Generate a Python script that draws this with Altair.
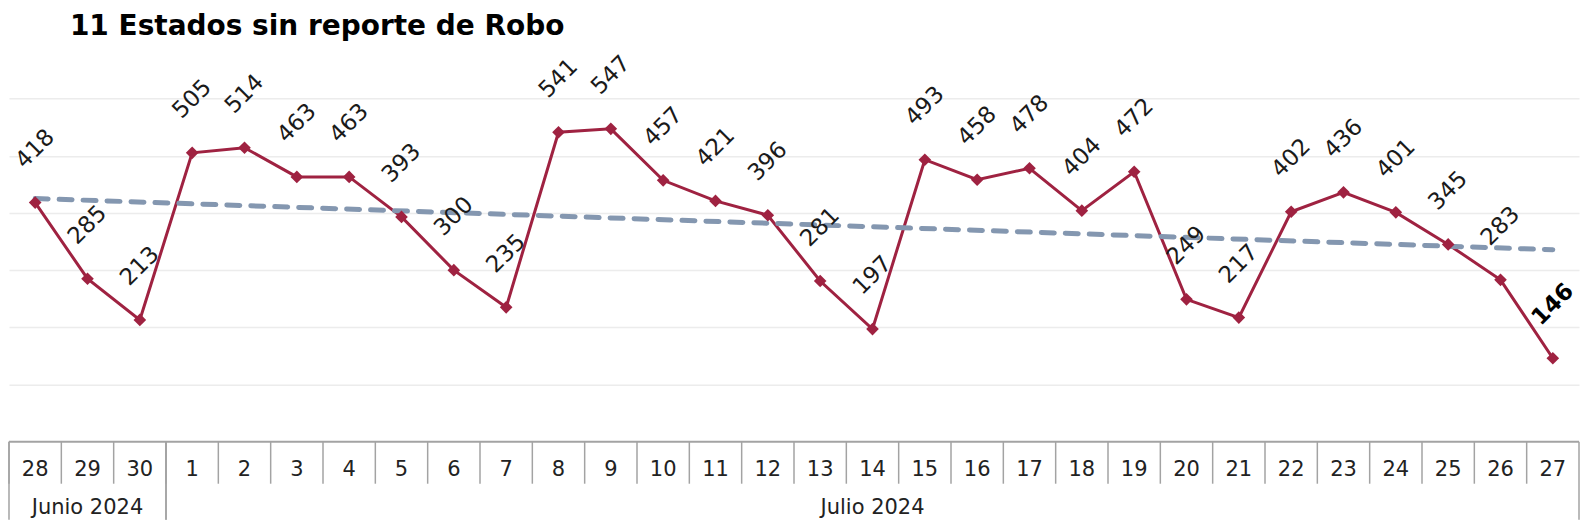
import altair as alt
import pandas as pd

titulo = "11 Estados sin reporte de Robo"
dias = ["28", "29", "30", "1", "2", "3", "4", "5", "6", "7", "8", "9", "10", "11", "12",
        "13", "14", "15", "16", "17", "18", "19", "20", "21", "22", "23", "24", "25", "26", "27"]
meses = ["Junio 2024"] * 3 + ["Julio 2024"] * 27
valores = [418, 285, 213, 505, 514, 463, 463, 393, 300, 235, 541, 547, 457, 421, 396,
           281, 197, 493, 458, 478, 404, 472, 249, 217, 402, 436, 401, 345, 283, 146]
grid_vals = [100, 200, 300, 400, 500, 600]

df = pd.DataFrame({"idx": list(range(len(dias))), "dia": dias, "mes": meses, "valor": valores})
df["ultimo"] = df["idx"] == df["idx"].max()

W = 1572
FONT = "DejaVu Sans"
GUINDA = "#9F2241"
TREND = "#8497B0"
LINEA_TABLA = "#a3a3a3"
xscale = alt.Scale(domain=[-0.5, len(dias) - 0.5], nice=False, zero=False)

base = alt.Chart(df).encode(x=alt.X("idx:Q", scale=xscale, axis=None))
yenc = alt.Y("valor:Q", scale=alt.Scale(domain=[0, 700], nice=False),
             axis=alt.Axis(values=grid_vals, grid=True, gridColor="#ececec", gridWidth=1.5,
                           labels=False, ticks=False, domain=False, title=None))

line = base.mark_line(color=GUINDA, strokeWidth=3).encode(y=yenc)
pts = base.mark_point(shape="diamond", filled=True, size=160, color=GUINDA, opacity=1).encode(y="valor:Q")
trend = base.transform_regression("idx", "valor", extent=[0, len(dias) - 1]).mark_line(
    color=TREND, strokeWidth=5, strokeDash=[13, 11], strokeCap="round").encode(y="valor:Q")
labels = base.transform_filter("!datum.ultimo").mark_text(
    angle=315, dx=38, dy=-38, fontSize=23, font=FONT, color="#1a1a1a",
    align="center", baseline="middle").encode(y="valor:Q", text="valor:Q")
label_last = base.transform_filter("datum.ultimo").mark_text(
    angle=315, dx=38, dy=-38, fontSize=23, font=FONT, color="#000", fontWeight="bold",
    align="center", baseline="middle").encode(y="valor:Q", text="valor:Q")

top = alt.layer(line, trend, pts, labels, label_last).properties(width=W, height=401)

tbl = alt.Chart(df)
xq = lambda f: alt.X(f, scale=xscale, axis=None)
dia_text = tbl.mark_text(fontSize=21, font=FONT, color="#222", baseline="middle").encode(
    x=xq("idx:Q"), y=alt.value(28), text="dia:N")
dia_rules = tbl.transform_calculate(borde="datum.idx - 0.5").mark_rule(
    color=LINEA_TABLA, strokeWidth=1.5).encode(x=xq("borde:Q"), y=alt.value(0), y2=alt.value(42))
mes_agg = tbl.transform_aggregate(ini="min(idx)", fin="max(idx)", groupby=["mes"])
mes_text = mes_agg.transform_calculate(centro="(datum.ini + datum.fin) / 2").mark_text(
    fontSize=21, font=FONT, color="#222", baseline="middle").encode(
    x=xq("centro:Q"), y=alt.value(66), text="mes:N")
mes_rules = mes_agg.transform_calculate(b1="datum.ini - 0.5", b2="datum.fin + 0.5").transform_fold(
    ["b1", "b2"]).mark_rule(color=LINEA_TABLA, strokeWidth=1.5).encode(
    x=xq("value:Q"), y=alt.value(0), y2=alt.value(78))
borde_sup = tbl.transform_aggregate(a="min(idx)", b="max(idx)").transform_calculate(
    x1="datum.a - 0.5", x2="datum.b + 0.5").mark_rule(color=LINEA_TABLA, strokeWidth=2).encode(
    x=xq("x1:Q"), x2="x2:Q", y=alt.value(0))

bottom = alt.layer(dia_rules, mes_rules, borde_sup, dia_text, mes_text).properties(width=W, height=78)

chart = alt.vconcat(top, bottom, spacing=0, bounds="flush").properties(
    padding={"top": 5, "left": 0, "right": 0, "bottom": 0},
    title=alt.Title(titulo, fontSize=28, font=FONT, fontWeight="bold", anchor="start",
                    dx=62, offset=0, color="#000"),
).configure_view(stroke=None)

chart.save("out.html", embed_options={"renderer": "svg", "actions": False})
